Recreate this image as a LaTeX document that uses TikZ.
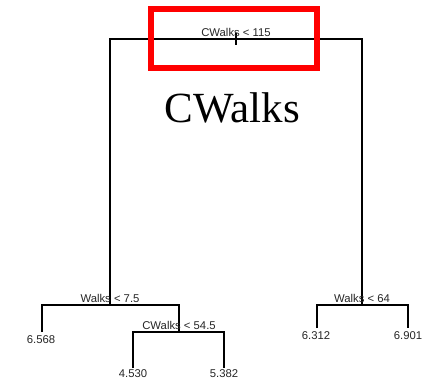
\documentclass[tikz,border=0pt]{standalone}
\usepackage{fontspec}
\setmainfont{Liberation Sans}
\newfontfamily\titlefont{Liberation Serif}
\begin{document}
\begin{tikzpicture}[x=1pt,y=-1pt,
  branch/.style={draw=black,line width=1.1pt},
  splitlab/.style={anchor=base,inner sep=0pt,font=\fontsize{11.3}{13}\selectfont,text=black!85},
  leaflab/.style={anchor=base,inner sep=0pt,font=\fontsize{11.3}{13}\selectfont,text=black!85},
  highlight/.style={draw=red,line width=6pt}]
\useasboundingbox[fill=white] (0,0) rectangle (439,382);

% split points of the tree
\coordinate (root) at (236,39);
\coordinate (roottop) at (236,33);
\coordinate (roottick) at (236,45);
\coordinate (rl) at (110,39);
\coordinate (rr) at (362,39);
\coordinate (L) at (110,305);
\coordinate (Ll) at (42,305);
\coordinate (Lr) at (179,305);
\coordinate (LR) at (179,332);
\coordinate (LRl) at (133,332);
\coordinate (LRr) at (224,332);
\coordinate (R) at (362,305);
\coordinate (Rl) at (317,305);
\coordinate (Rr) at (408,305);
% leaf ends
\coordinate (leafA) at (42,332);
\coordinate (leafB) at (133,368);
\coordinate (leafC) at (224,368);
\coordinate (leafD) at (317,328);
\coordinate (leafE) at (408,328);

% branches
\draw[branch] (roottop) -- (roottick);
\draw[branch] (L) -- (rl) -- (rr) -- (R);
\draw[branch] (leafA) -- (Ll) -- (Lr) -- (LR);
\draw[branch] (leafB) -- (LRl) -- (LRr) -- (leafC);
\draw[branch] (leafD) -- (Rl) -- (Rr) -- (leafE);

% split labels
\node[splitlab] (s1) at (236,37) {CWalks < 115};
\node[splitlab] (s2) at (110,302) {Walks < 7.5};
\node[splitlab] (s3) at (179,329.3) {CWalks < 54.5};
\node[splitlab] (s4) at (362,302.7) {Walks < 64};

% leaf values
\node[leaflab] (v1) at (41,343.3) {6.568};
\node[leaflab] (v2) at (133,377.7) {4.530};
\node[leaflab] (v3) at (224,377.7) {5.382};
\node[leaflab] (v4) at (316,339.3) {6.312};
\node[leaflab] (v5) at (408,339.3) {6.901};

% title
\node[anchor=base,inner sep=0pt,font=\titlefont\fontsize{43}{50}\selectfont] (title) at (232.5,123) {CWalks};

% highlight box around the root split
\draw[highlight] (150.5,9) rectangle (317,68.5);
\end{tikzpicture}
\end{document}
